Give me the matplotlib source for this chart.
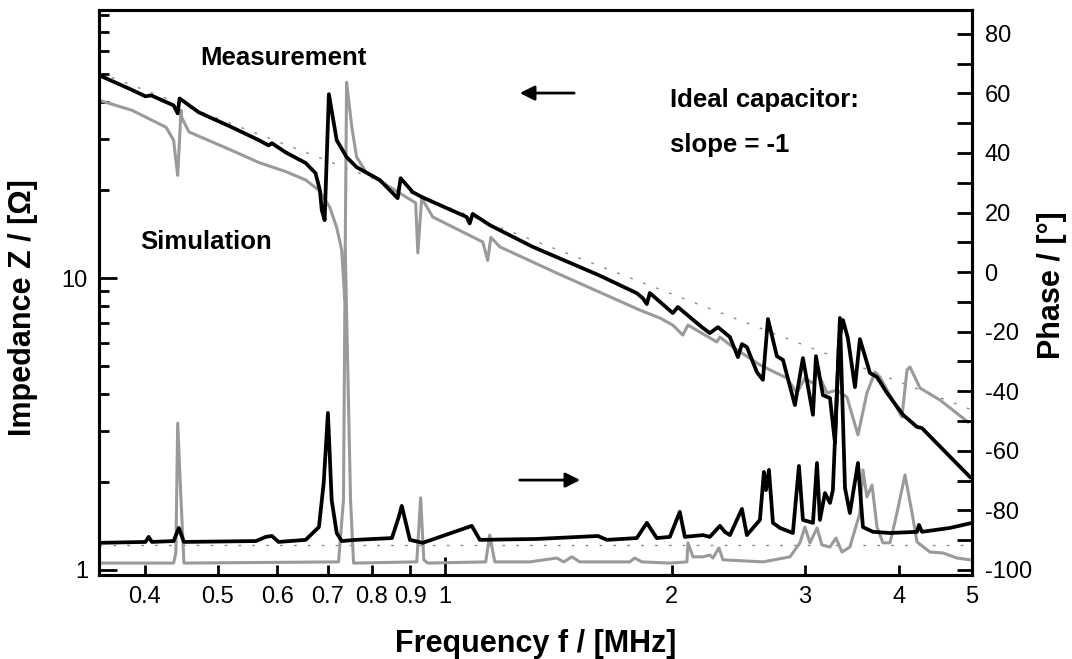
import numpy as np
import matplotlib
matplotlib.use('Agg')
from matplotlib import pyplot as plt

plt.rcParams['font.family'] = ['Liberation Sans', 'DejaVu Sans']
plt.rcParams['axes.unicode_minus'] = False

####################################### data
# impedance, measurement [MHz, Ohm]
meas_f = [0.348, 0.381, 0.401, 0.408, 0.437, 0.4425, 0.445, 0.472, 0.522, 0.567,
          0.584, 0.590, 0.615, 0.654, 0.674, 0.683, 0.687, 0.693, 0.702, 0.719,
          0.741, 0.764, 0.820, 0.866, 0.874, 0.907, 0.935, 1.069, 1.079, 1.089,
          1.147, 1.308, 1.605, 1.797, 1.830, 1.853, 1.870, 2.006, 2.037, 2.192,
          2.246, 2.302, 2.388, 2.447, 2.477, 2.515, 2.593, 2.641, 2.682, 2.756,
          2.808, 2.912, 2.984, 3.077, 3.105, 3.172, 3.241, 3.291, 3.331, 3.372,
          3.423, 3.498, 3.551, 3.662, 3.741, 3.857, 4.050, 4.227, 4.292, 4.970]
meas_z = [49.6, 44.7, 42.0, 42.3, 39.1, 36.7, 41.3, 37.0, 32.9, 29.7,
          28.5, 29.0, 27.0, 24.8, 22.9, 20.0, 17.1, 15.8, 42.7, 29.7,
          26.0, 24.0, 21.7, 18.8, 22.0, 19.7, 18.9, 16.2, 15.4, 16.6,
          15.2, 12.8, 10.2, 8.88, 8.54, 8.15, 8.89, 7.59, 7.96, 6.79,
          6.48, 6.79, 6.28, 5.36, 5.94, 5.80, 4.76, 4.48, 7.24, 5.40,
          5.24, 3.67, 5.32, 3.40, 5.40, 3.97, 3.88, 2.72, 6.04, 7.18,
          6.23, 4.23, 6.18, 4.73, 4.58, 4.04, 3.40, 3.09, 3.06, 2.08]

# impedance, simulation
sim_f = [0.348, 0.385, 0.427, 0.437, 0.440, 0.4425, 0.447, 0.448, 0.458, 0.522,
         0.567, 0.615, 0.654, 0.681, 0.704, 0.719, 0.730, 0.737, 0.741, 0.753,
         0.764, 0.788, 0.846, 0.915, 0.921, 0.932, 0.964, 1.123, 1.140, 1.151,
         1.183, 1.408, 1.776, 1.814, 1.928, 2.006, 2.068, 2.101, 2.295, 2.316,
         2.410, 2.617, 2.842, 2.930, 3.002, 3.077, 3.124, 3.211, 3.311, 3.413,
         3.530, 3.628, 3.718, 3.775, 4.037, 4.100, 4.138, 4.266, 4.535, 4.939]
sim_z = [40.7, 37.6, 32.9, 29.7, 25.4, 22.5, 37.6, 35.5, 31.7, 27.4,
         24.9, 23.2, 21.7, 20.0, 17.5, 14.9, 12.5, 8.4, 46.9, 32.9,
         26.0, 22.9, 20.5, 18.1, 12.2, 18.8, 16.2, 13.3, 11.5, 13.8,
         12.8, 10.4, 7.96, 7.77, 7.30, 6.90, 6.38, 6.90, 6.04, 6.28,
         5.80, 5.04, 4.54, 4.04, 4.54, 4.36, 4.73, 4.04, 4.13, 3.91,
         2.90, 4.04, 4.76, 4.58, 3.34, 4.84, 4.96, 4.20, 3.82, 3.21]

# phase, measurement [MHz, deg]
mph_f = [0.348, 0.401, 0.405, 0.409, 0.437, 0.444, 0.451, 0.562, 0.579, 0.590,
         0.602, 0.654, 0.681, 0.691, 0.700, 0.708, 0.719, 0.730, 0.762, 0.851,
         0.869, 0.877, 0.899, 0.935, 1.086, 1.113, 1.324, 1.596, 1.640, 1.797,
         1.853, 1.910, 1.988, 2.049, 2.081, 2.199, 2.246, 2.316, 2.351, 2.388,
         2.477, 2.515, 2.617, 2.649, 2.666, 2.690, 2.723, 2.782, 2.894, 2.948,
         2.984, 3.077, 3.115, 3.143, 3.192, 3.241, 3.270, 3.341, 3.393, 3.444,
         3.530, 3.584, 3.695, 3.893, 4.227, 4.253, 4.292, 4.676, 5.0]
mph_p = [-90.9, -90.6, -88.9, -90.6, -90.3, -85.9, -90.6, -90.3, -88.9, -88.6,
         -90.6, -89.9, -85.6, -70.8, -47.3, -76.5, -87.6, -90.3, -89.9, -89.3,
         -82.2, -78.5, -89.9, -90.9, -85.2, -89.9, -89.6, -88.6, -89.9, -89.3,
         -84.2, -89.3, -88.9, -80.5, -88.9, -88.3, -88.9, -85.2, -87.2, -88.3,
         -79.5, -88.3, -83.2, -67.1, -73.2, -66.4, -84.2, -85.9, -87.6, -65.1,
         -83.2, -84.2, -64.1, -83.2, -74.2, -77.5, -73.2, -15.4, -72.5, -80.9,
         -64.1, -85.6, -87.2, -87.6, -87.2, -84.9, -87.2, -85.9, -84.2]

# phase, simulation
sph_f = [0.348, 0.437, 0.440, 0.4425, 0.447, 0.451, 0.723, 0.734, 0.738, 0.750,
         0.757, 0.918, 0.929, 0.938, 0.949, 1.133, 1.147, 1.165, 1.296, 1.408,
         1.438, 1.474, 1.510, 1.759, 1.786, 1.825, 1.988, 2.094, 2.101, 2.133,
         2.199, 2.246, 2.267, 2.309, 2.338, 2.641, 2.869, 2.957, 3.002, 3.049,
         3.115, 3.162, 3.241, 3.301, 3.362, 3.444, 3.551, 3.584, 3.628, 3.685,
         3.741, 3.810, 3.893, 3.976, 4.075, 4.164, 4.227, 4.398, 4.576, 4.775, 4.970]
sph_p = [-97.7, -97.7, -94.3, -50.7, -76.5, -97.7, -97.3, -76.5, 7.4, -76.5,
         -97.7, -97.3, -75.8, -96.6, -97.7, -97.3, -88.3, -97.3, -97.3, -96.0,
         -97.3, -95.6, -97.3, -97.3, -96.0, -97.3, -97.7, -97.3, -90.9, -95.6,
         -95.6, -95.0, -96.0, -92.6, -96.6, -97.3, -95.6, -90.9, -85.6, -90.9,
         -85.9, -91.6, -92.3, -89.3, -94.0, -92.3, -80.9, -66.4, -75.5, -71.5,
         -85.6, -90.9, -90.9, -80.9, -68.1, -80.9, -90.6, -94.0, -94.3, -96.0, -96.6]

# ideal capacitor (slope -1) and its -90 deg phase
ideal_f = [0.348, 5.0]
ideal_z = [50.7, 3.53]
ideal_p = [-91.5, -91.5]

x_ticks = [0.4, 0.5, 0.6, 0.7, 0.8, 0.9, 2, 3, 4, 5]
x_ticklabels = ['0.4', '0.5', '0.6', '0.7', '0.8', '0.9', '2', '3', '4', '5']

####################################### figure
fig = plt.figure(figsize=(10.72, 6.59), dpi=100)
ax = fig.add_axes([99/1072, 1-575/659, 873/1072, 565/659])
ax2 = ax.twinx()

gray = '#9a9a9a'
ax.plot(ideal_f, ideal_z, color='#8a8a8a', lw=1.0, dashes=(2, 8))
ax.plot(sim_f, sim_z, color=gray, lw=2.2)
ax.plot(meas_f, meas_z, color='black', lw=2.7)

ax2.plot(ideal_f, ideal_p, color='#8a8a8a', lw=1.0, dashes=(2, 8))
ax2.plot(sph_f, sph_p, color=gray, lw=2.2)
ax2.plot(mph_f, mph_p, color='black', lw=2.7)

ax.set_xscale('log')
ax.set_yscale('log')
ax.set_xlim(0.348, 5.0)
ax.set_ylim(0.96, 83)
ax2.set_ylim(-101.7, 88)

####################################### ticks
ax.set_xticks([1], ['1'])
ax.set_xticks(x_ticks, x_ticklabels, minor=True)
ax.set_yticks([1, 10], ['1', '10'])
ax.set_yticks([2, 3, 4, 5, 6, 7, 8, 9, 20, 30, 40, 50, 60, 70, 80], [], minor=True)
ax.tick_params(which='both', direction='in', width=2, labelsize=17, top=False, right=False)
ax.tick_params(which='major', length=13)
ax.tick_params(which='minor', length=7)
ax.tick_params(axis='y', which='both', pad=8)
ax.tick_params(axis='x', which='both', pad=8)

ax2.set_yticks(np.arange(-100, 81, 20))
ax2.set_yticks(np.arange(-90, 90, 20), minor=True)
ax2.tick_params(which='both', direction='in', width=2, length=11, labelsize=17, pad=9)

for a in (ax, ax2):
    for s in a.spines.values():
        s.set_linewidth(2.2)

####################################### labels
ax.set_xlabel('Frequency f / [MHz]', fontsize=22, fontweight='bold')
ax.xaxis.set_label_coords(0.5, -0.0956)
ax.set_ylabel('Impedance Z / [Ω]', fontsize=22, fontweight='bold')
ax.yaxis.set_label_coords(-0.070, 0.4726)
ax2.set_ylabel('Phase / [°]', fontsize=22, fontweight='bold')
ax2.yaxis.set_label_coords(1.074, 0.513)

ann = dict(transform=ax.transAxes, fontsize=18.5, fontweight='bold', va='center', ha='left')
ax.text(0.1157, 0.915, 'Measurement', **ann)
ax.text(0.047, 0.589, 'Simulation', **ann)
ax.text(0.654, 0.841, 'Ideal capacitor:', **ann)
ax.text(0.654, 0.761, 'slope = -1', **ann)

arrow = dict(arrowstyle='-|>', color='black', lw=2, mutation_scale=22)
ax.annotate('', xy=(0.4788, 0.853), xytext=(0.5475, 0.853),
            xycoords='axes fraction', arrowprops=arrow)
ax.annotate('', xy=(0.5544, 0.168), xytext=(0.4788, 0.168),
            xycoords='axes fraction', arrowprops=arrow)

fig.savefig('out.png', dpi=100)
